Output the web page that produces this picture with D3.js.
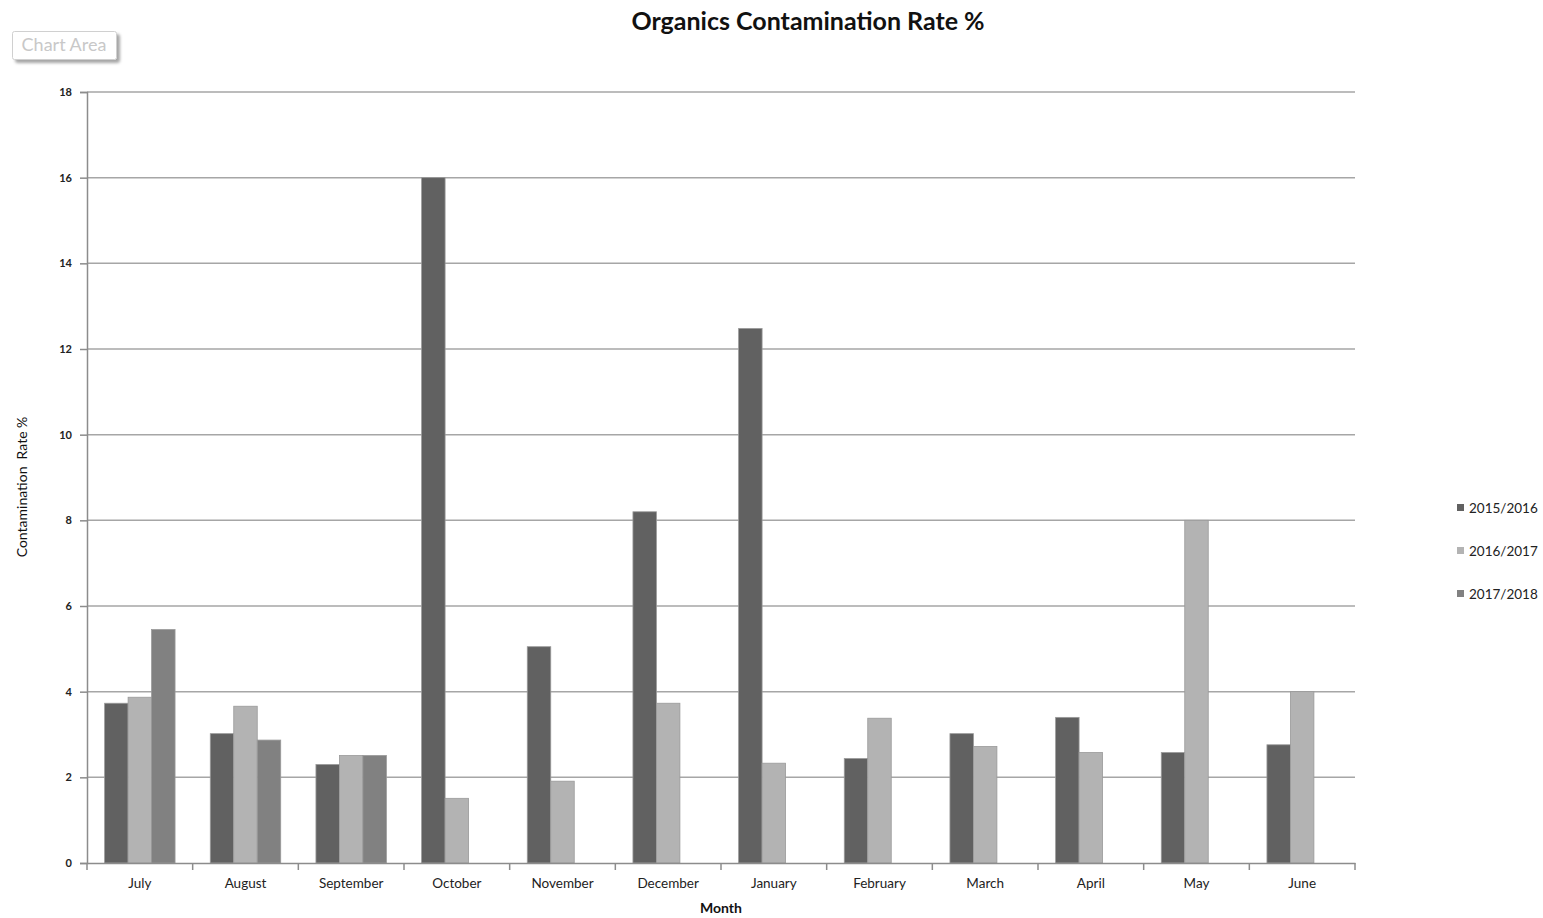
<!DOCTYPE html>
<html>
<head>
<meta charset="utf-8">
<script src="https://cdnjs.cloudflare.com/ajax/libs/d3/7.8.5/d3.min.js"></script>
<style>
  body { margin: 0; background: #fff; }
  svg { display: block; font-family: Lato, "Open Sans", sans-serif; }
  svg text { font-family: Lato, "Open Sans", sans-serif; }
</style>
</head>
<body>
<div id="chart"></div>
<script>
// chart data
var months = ["July", "August", "September", "October", "November", "December",
              "January", "February", "March", "April", "May", "June"];
var seriesNames = ["2015/2016", "2016/2017", "2017/2018"];
var s2015 = [3.73, 3.02, 2.30, 16.0, 5.05, 8.20, 12.48, 2.44, 3.02, 3.40, 2.58, 2.76];
var s2016 = [3.87, 3.66, 2.51, 1.51, 1.91, 3.73, 2.33, 3.38, 2.72, 2.58, 8.0, 4.0];
var s2017 = [5.45, 2.87, 2.51, null, null, null, null, null, null, null, null, null];
var yTicks = [0, 2, 4, 6, 8, 10, 12, 14, 16, 18];
var colors = ["#616161", "#b3b3b3", "#818181"];

var W = 1543, H = 918;
var margin = {top: 92, right: 188, bottom: 55, left: 87},
    width = W - margin.left - margin.right,
    height = H - margin.top - margin.bottom;

var svg = d3.select("#chart").append("svg")
    .attr("width", W)
    .attr("height", H);

// "Chart Area" tooltip box
var defs = svg.append("defs");
var f = defs.append("filter").attr("id", "shadow").attr("x", "-10%").attr("y", "-20%")
    .attr("width", "130%").attr("height", "160%");
f.append("feDropShadow").attr("dx", 3).attr("dy", 3).attr("stdDeviation", 1.5)
    .attr("flood-color", "#000").attr("flood-opacity", 0.35);
svg.append("rect")
    .attr("x", 12.5).attr("y", 31.5).attr("width", 104).attr("height", 28)
    .attr("rx", 2)
    .attr("fill", "#fff").attr("stroke", "#d0d0d0")
    .attr("filter", "url(#shadow)");
svg.append("text")
    .attr("x", 64).attr("y", 51)
    .attr("text-anchor", "middle")
    .attr("font-size", 18)
    .attr("fill", "#c8c8c8")
    .text("Chart Area");

// title
svg.append("text")
    .attr("x", 808).attr("y", 30)
    .attr("text-anchor", "middle")
    .attr("font-size", 25)
    .attr("font-weight", "bold")
    .attr("fill", "#111")
    .text("Organics Contamination Rate %");

var g = svg.append("g")
    .attr("transform", "translate(" + margin.left + "," + margin.top + ")");

var x0 = d3.scaleBand()
    .domain(months)
    .range([0, width])
    .paddingInner(0).paddingOuter(0);

// Excel-style gap width 150%: bar = band / (3 + 1.5)
var barW = x0.bandwidth() / 4.5;
var x1 = d3.scaleBand()
    .domain(seriesNames)
    .range([barW * 0.75, barW * 3.75]);

var y = d3.scaleLinear()
    .domain([0, 18])
    .range([height, 0]);

// gridlines
g.append("g")
  .selectAll("line")
  .data(yTicks.filter(function(d) { return d > 0; }))
  .enter().append("line")
    .attr("x1", 0).attr("x2", width)
    .attr("y1", function(d) { return y(d); })
    .attr("y2", function(d) { return y(d); })
    .attr("stroke", "#a6a6a6")
    .attr("stroke-width", 1.5);

// bars
var allSeries = [s2015, s2016, s2017];
var rows = [];
months.forEach(function(m, i) {
  allSeries.forEach(function(s, k) {
    if (s[i] != null) rows.push({month: m, series: seriesNames[k], k: k, value: s[i]});
  });
});

g.append("g")
  .selectAll("rect")
  .data(rows)
  .enter().append("rect")
    .attr("x", function(d) { return x0(d.month) + x1(d.series); })
    .attr("y", function(d) { return y(d.value); })
    .attr("width", x1.bandwidth())
    .attr("height", function(d) { return height - y(d.value); })
    .attr("fill", function(d) { return colors[d.k]; })
    .attr("stroke", "#9a9a9a")
    .attr("stroke-width", 0.8);

// y axis
var yAxis = g.append("g")
    .attr("font-family", null)
    .call(d3.axisLeft(y).tickValues(yTicks).tickSize(7).tickPadding(8));
yAxis.attr("font-family", null);
yAxis.select(".domain").attr("stroke", "#8c8c8c").attr("stroke-width", 1.5);
yAxis.selectAll(".tick line").attr("stroke", "#8c8c8c").attr("stroke-width", 1.5);
yAxis.selectAll(".tick text")
    .attr("font-size", 11).attr("font-weight", "bold").attr("fill", "#222");

// x axis
var xAxis = g.append("g")
    .attr("transform", "translate(0," + height + ")")
    .call(d3.axisBottom(x0).tickSize(0).tickPadding(15));
xAxis.attr("font-family", null);
xAxis.select(".domain").attr("stroke", "#8c8c8c").attr("stroke-width", 1.5);
xAxis.selectAll(".tick text")
    .attr("font-size", 13.5).attr("fill", "#222");

// category separator ticks
xAxis.append("g")
  .selectAll("line")
  .data(d3.range(months.length + 1))
  .enter().append("line")
    .attr("x1", function(i) { return i * x0.bandwidth(); })
    .attr("x2", function(i) { return i * x0.bandwidth(); })
    .attr("y1", 0).attr("y2", 7)
    .attr("stroke", "#8c8c8c")
    .attr("stroke-width", 1.5);

// axis titles
svg.append("text")
    .attr("x", 721).attr("y", 913)
    .attr("text-anchor", "middle")
    .attr("font-size", 14)
    .attr("font-weight", "bold")
    .attr("fill", "#111")
    .text("Month");

svg.append("text")
    .attr("transform", "translate(27,487) rotate(-90)")
    .attr("text-anchor", "middle")
    .attr("font-size", 14)
    .attr("fill", "#111")
    .attr("xml:space", "preserve")
    .text("Contamination  Rate %");

// legend
var legend = svg.append("g")
  .selectAll("g")
  .data(seriesNames)
  .enter().append("g")
    .attr("transform", function(d, i) { return "translate(1457," + (508 + i * 43) + ")"; });
legend.append("rect")
    .attr("x", 0).attr("y", -4).attr("width", 7).attr("height", 7)
    .attr("fill", function(d, i) { return colors[i]; });
legend.append("text")
    .attr("x", 12).attr("y", 5)
    .attr("font-size", 13.5)
    .attr("fill", "#222")
    .text(function(d) { return d; });
</script>
</body>
</html>
